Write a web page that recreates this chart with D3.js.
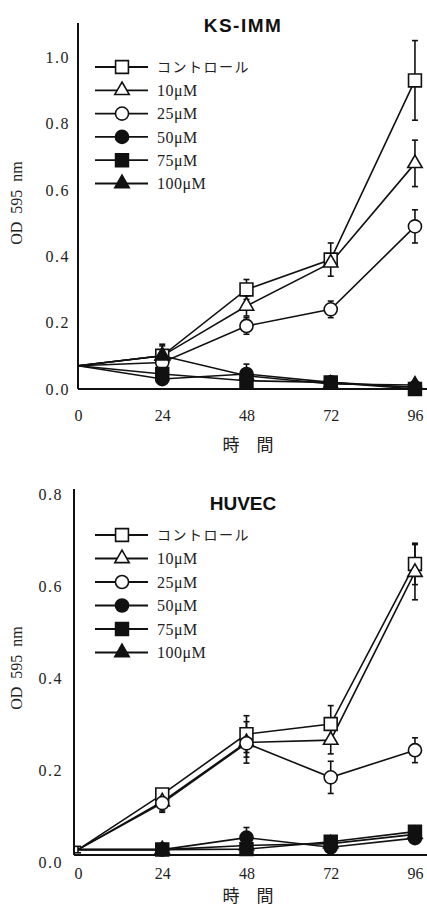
<!DOCTYPE html>
<html>
<head>
<meta charset="utf-8">
<script src="https://cdn.jsdelivr.net/npm/d3@7"></script>
<style>
  body { margin: 0; background: #fff; }
  svg { display: block; }
</style>
</head>
<body>
<div id="chart"></div>
<script>
// 時間 (h)
const hours = [0, 24, 48, 72, 96];
const seriesNames = ["コントロール", "10μM", "25μM", "50μM", "75μM", "100μM"];
const seriesSymbols = ["square", "triangle", "circle", "circle", "square", "triangle"];
const seriesFilled = [false, false, false, true, true, true];

// KS-IMM
const ksValues = [
    [0.07, 0.10, 0.30, 0.39, 0.93],
    [0.07, 0.10, 0.25, 0.38, 0.68],
    [0.07, 0.08, 0.19, 0.24, 0.49],
    [0.07, 0.03, 0.045, 0.02, 0.005],
    [0.07, 0.045, 0.025, 0.02, 0.0],
    [0.07, 0.10, 0.04, 0.015, 0.012]
];
const ksErrors = [
    [0, 0.03, 0.03, 0.05, 0.12],
    [0, 0, 0.03, 0, 0.07],
    [0, 0.02, 0.025, 0.025, 0.05],
    [0, 0, 0.03, 0, 0],
    [0, 0, 0, 0, 0],
    [0, 0.035, 0, 0, 0]
];
const ksTicks = [0.0, 0.2, 0.4, 0.6, 0.8, 1.0];

// HUVEC
const huvecValues = [
    [0.027, 0.147, 0.278, 0.30, 0.648],
    [0.027, 0.131, 0.26, 0.265, 0.63],
    [0.027, 0.128, 0.258, 0.184, 0.243],
    [0.027, 0.027, 0.053, 0.032, 0.052],
    [0.027, 0.027, 0.028, 0.044, 0.066],
    [0.027, 0.027, 0.036, 0.04, 0.06]
];
const huvecErrors = [
    [0, 0, 0.04, 0.04, 0.045],
    [0, 0.02, 0.045, 0.03, 0.06],
    [0, 0.02, 0.03, 0.035, 0.027],
    [0.007, 0, 0.022, 0, 0],
    [0, 0, 0, 0, 0],
    [0, 0, 0, 0, 0]
];
const huvecTicks = [0.0, 0.2, 0.4, 0.6, 0.8];

const W = 427, H = 905;
const serif = "'Liberation Serif', 'DejaVu Serif', serif";
const svg = d3.select("#chart").append("svg")
    .attr("width", W).attr("height", H);

const symbolOf = { square: d3.symbolSquare, triangle: d3.symbolTriangle, circle: d3.symbolCircle };
const symbolSize = { square: 165, triangle: 90, circle: 135 };

function drawPanel(p) {
    const g = svg.append("g");

    const x = d3.scaleLinear().domain([0, 100]).range([78, 429]);
    const y = d3.scaleLinear().domain(p.yDomain).range(p.yRange);

    // y 軸
    const yAxis = g.append("g")
        .attr("transform", `translate(${p.yAxisX},0)`)
        .call(d3.axisLeft(y).tickValues(p.ticks).tickFormat(d3.format(".1f")).tickSize(0).tickPadding(p.yPad));
    yAxis.select(".domain").remove();
    yAxis.selectAll("text")
        .style("font-family", serif).style("font-size", "16px")
        .style("letter-spacing", "1.5px").style("fill", "#222");
    g.append("line")
        .attr("x1", p.yAxisX).attr("x2", p.yAxisX)
        .attr("y1", p.axisTop).attr("y2", p.baseY)
        .attr("stroke", "#111").attr("stroke-width", 2);

    // x 軸
    const xAxis = g.append("g")
        .attr("transform", `translate(0,${p.baseY})`)
        .call(d3.axisBottom(x).tickValues(hours).tickFormat(d3.format("d")).tickSize(0).tickPadding(p.xPad));
    xAxis.select(".domain").remove();
    xAxis.selectAll("text")
        .style("font-family", serif).style("font-size", "16px").style("fill", "#222");
    g.append("line")
        .attr("x1", p.yAxisX).attr("x2", W)
        .attr("y1", p.baseY).attr("y2", p.baseY)
        .attr("stroke", "#111").attr("stroke-width", 2);

    // タイトル
    g.append("text")
        .attr("x", 243).attr("y", p.titleY)
        .attr("text-anchor", "middle")
        .attr("dominant-baseline", "central")
        .style("font-family", "'Liberation Sans', Arial, sans-serif")
        .style("font-weight", "bold").style("font-size", "19px")
        .style("letter-spacing", p.titleSpacing)
        .style("fill", "#111")
        .text(p.title);

    // 軸ラベル
    g.append("text")
        .attr("transform", `translate(16,${p.yLabelY}) rotate(-90)`)
        .attr("text-anchor", "middle")
        .attr("dominant-baseline", "central")
        .style("font-family", serif)
        .style("font-size", "16px")
        .style("white-space", "pre")
        .style("fill", "#222")
        .text("OD  595  nm");

    g.append("text")
        .attr("x", 248).attr("y", p.xLabelY)
        .attr("text-anchor", "middle")
        .attr("dominant-baseline", "central")
        .style("font-family", "'Noto Sans CJK JP', sans-serif")
        .style("font-size", "17px").style("fill", "#222")
        .text("時　間");

    const line = d3.line().x((d, i) => x(hours[i])).y(d => y(d));

    // 折れ線
    p.values.forEach(vals => {
        g.append("path")
            .datum(vals)
            .attr("d", line)
            .attr("fill", "none")
            .attr("stroke", "#111")
            .attr("stroke-width", 1.6);
    });

    // 誤差棒
    p.values.forEach((vals, s) => {
        vals.forEach((v, i) => {
            const e = p.errors[s][i];
            if (!e) return;
            const cx = x(hours[i]);
            g.append("line")
                .attr("x1", cx).attr("x2", cx)
                .attr("y1", y(v - e)).attr("y2", y(v + e))
                .attr("stroke", "#111").attr("stroke-width", 1.6);
            [v - e, v + e].forEach(t => {
                g.append("line")
                    .attr("x1", cx - 3).attr("x2", cx + 3)
                    .attr("y1", y(t)).attr("y2", y(t))
                    .attr("stroke", "#111").attr("stroke-width", 1.6);
            });
        });
    });

    // マーカー
    p.values.forEach((vals, s) => {
        const type = seriesSymbols[s];
        g.append("g").selectAll("path")
            .data(vals.slice(1))
            .enter().append("path")
            .attr("transform", (d, i) => `translate(${x(hours[i + 1])},${y(d)})`)
            .attr("d", d3.symbol().type(symbolOf[type]).size(symbolSize[type]))
            .attr("fill", seriesFilled[s] ? "#111" : "#fff")
            .attr("stroke", "#111")
            .attr("stroke-width", 1.6);
    });

    // 凡例
    const legend = g.selectAll(".legend")
        .data(seriesNames)
        .enter().append("g")
        .attr("class", "legend")
        .attr("transform", (d, i) => `translate(0,${p.legendY + i * p.legendStep})`);

    legend.append("line")
        .attr("x1", 95).attr("x2", 148)
        .attr("stroke", "#111").attr("stroke-width", 1.8);

    legend.append("path")
        .attr("transform", "translate(122,0)")
        .attr("d", (d, i) => d3.symbol().type(symbolOf[seriesSymbols[i]]).size(symbolSize[seriesSymbols[i]])())
        .attr("fill", (d, i) => seriesFilled[i] ? "#111" : "#fff")
        .attr("stroke", "#111").attr("stroke-width", 1.6);

    legend.append("text")
        .attr("x", 157)
        .attr("dy", "0.35em")
        .style("font-family", (d, i) => i === 0 ? "'Noto Sans CJK JP', sans-serif" : serif)
        .style("font-size", (d, i) => i === 0 ? "14px" : "16px")
        .style("letter-spacing", (d, i) => i === 0 ? "1.5px" : "0.5px")
        .style("fill", "#222")
        .text(d => d);
}

drawPanel({
    title: "KS-IMM", titleY: 25, titleSpacing: "1.5px",
    values: ksValues, errors: ksErrors, ticks: ksTicks,
    yDomain: [0, 1.1], yRange: [389, 24],
    yAxisX: 78, axisTop: 23, baseY: 389,
    yPad: 8, xPad: 21,
    yLabelY: 203, xLabelY: 443,
    legendY: 67, legendStep: 23.3
});

drawPanel({
    title: "HUVEC", titleY: 503, titleSpacing: "0px",
    values: huvecValues, errors: huvecErrors, ticks: huvecTicks,
    yDomain: [0, 0.8], yRange: [862, 494],
    yAxisX: 74, axisTop: 489, baseY: 855,
    yPad: 11, xPad: 13,
    yLabelY: 668, xLabelY: 894,
    legendY: 535, legendStep: 23.5
});
</script>
</body>
</html>
